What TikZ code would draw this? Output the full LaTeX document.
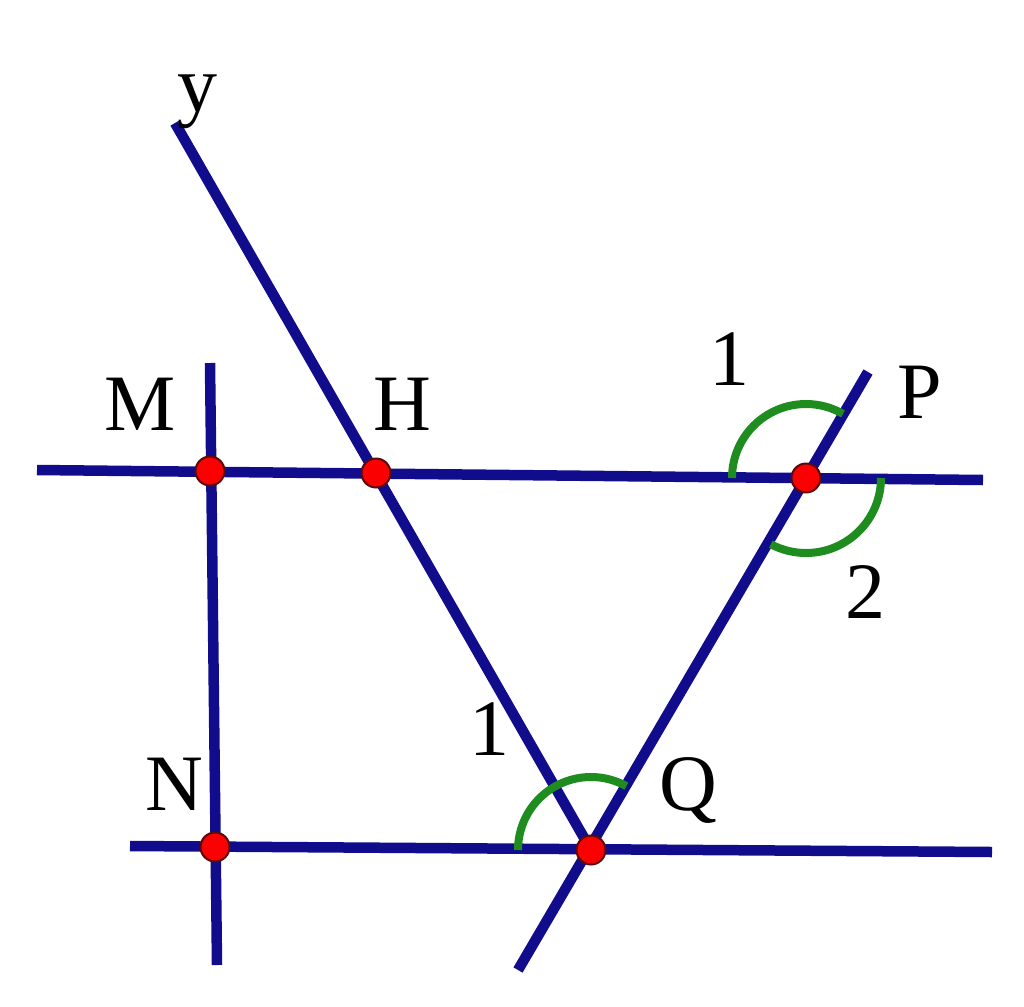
\documentclass[tikz,border=0pt]{standalone}
\usepackage{fontspec}
\setmainfont{Liberation Serif}
\usetikzlibrary{calc}
\definecolor{navy}{RGB}{16,12,140}
\definecolor{arcgreen}{RGB}{30,140,30}
\definecolor{dotred}{RGB}{250,0,0}
\definecolor{dotrim}{RGB}{90,10,10}
\tikzset{
  geoline/.style={draw=navy, line width=10.5pt},
  anglearc/.style={draw=arcgreen, line width=8pt},
  pt/.style={circle, fill=dotred, draw=dotrim, line width=2pt, inner sep=0pt, minimum size=29pt},
  lbl/.style={anchor=base, inner sep=0pt, font=\fontsize{80}{90}\selectfont}
}
\begin{document}
\begin{tikzpicture}[x=1pt,y=1pt]
\useasboundingbox (0,0) rectangle (1024,-1006);
% points
\coordinate (M) at (210,-471);
\coordinate (H) at (376,-473);
\coordinate (P) at (806,-478);
\coordinate (N) at (215,-847);
\coordinate (Q) at (591,-850);
% free ends
\coordinate (MPl) at (37,-470);
\coordinate (MPr) at (983,-480);
\coordinate (NQl) at (130,-846);
\coordinate (NQr) at (992,-852);
\coordinate (vt) at (210,-363);
\coordinate (vb) at (217,-965);
\coordinate (yt) at (175,-123);
\coordinate (QPt) at (868,-372);
\coordinate (QPb) at (518,-970);
% lines
\draw[geoline] (MPl) -- (MPr);
\draw[geoline] (NQl) -- (NQr);
\draw[geoline] (vt) -- (vb);
\draw[geoline] (yt) -- (Q);
\draw[geoline] (QPb) -- (QPt);
% angle arcs
\draw[anglearc] (P) ++(180:74) arc[start angle=180, end angle=60, radius=74];
\draw[anglearc] (P) ++(0:75) arc[start angle=0, end angle=-118, radius=75];
\draw[anglearc] (Q) ++(180:73) arc[start angle=180, end angle=61, radius=73];
% dots
\node[pt] (dM) at (M) {};
\node[pt] (dH) at (H) {};
\node[pt] (dP) at (P) {};
\node[pt] (dN) at (N) {};
\node[pt] (dQ) at (Q) {};
% labels
\node[lbl] (ly) at (197,-112) {y};
\node[lbl] (lM) at (140,-430) {M};
\node[lbl] (lH) at (402,-430) {H};
\node[lbl] (l1a) at (729,-385) {1};
\node[lbl] (lP) at (920,-418) {P};
\node[lbl] (l2) at (865,-618) {2};
\node[lbl] (l1b) at (489,-755) {1};
\node[lbl] (lQ) at (688,-810) {Q};
\node[lbl] (lN) at (174,-810) {N};
\end{tikzpicture}
\end{document}
